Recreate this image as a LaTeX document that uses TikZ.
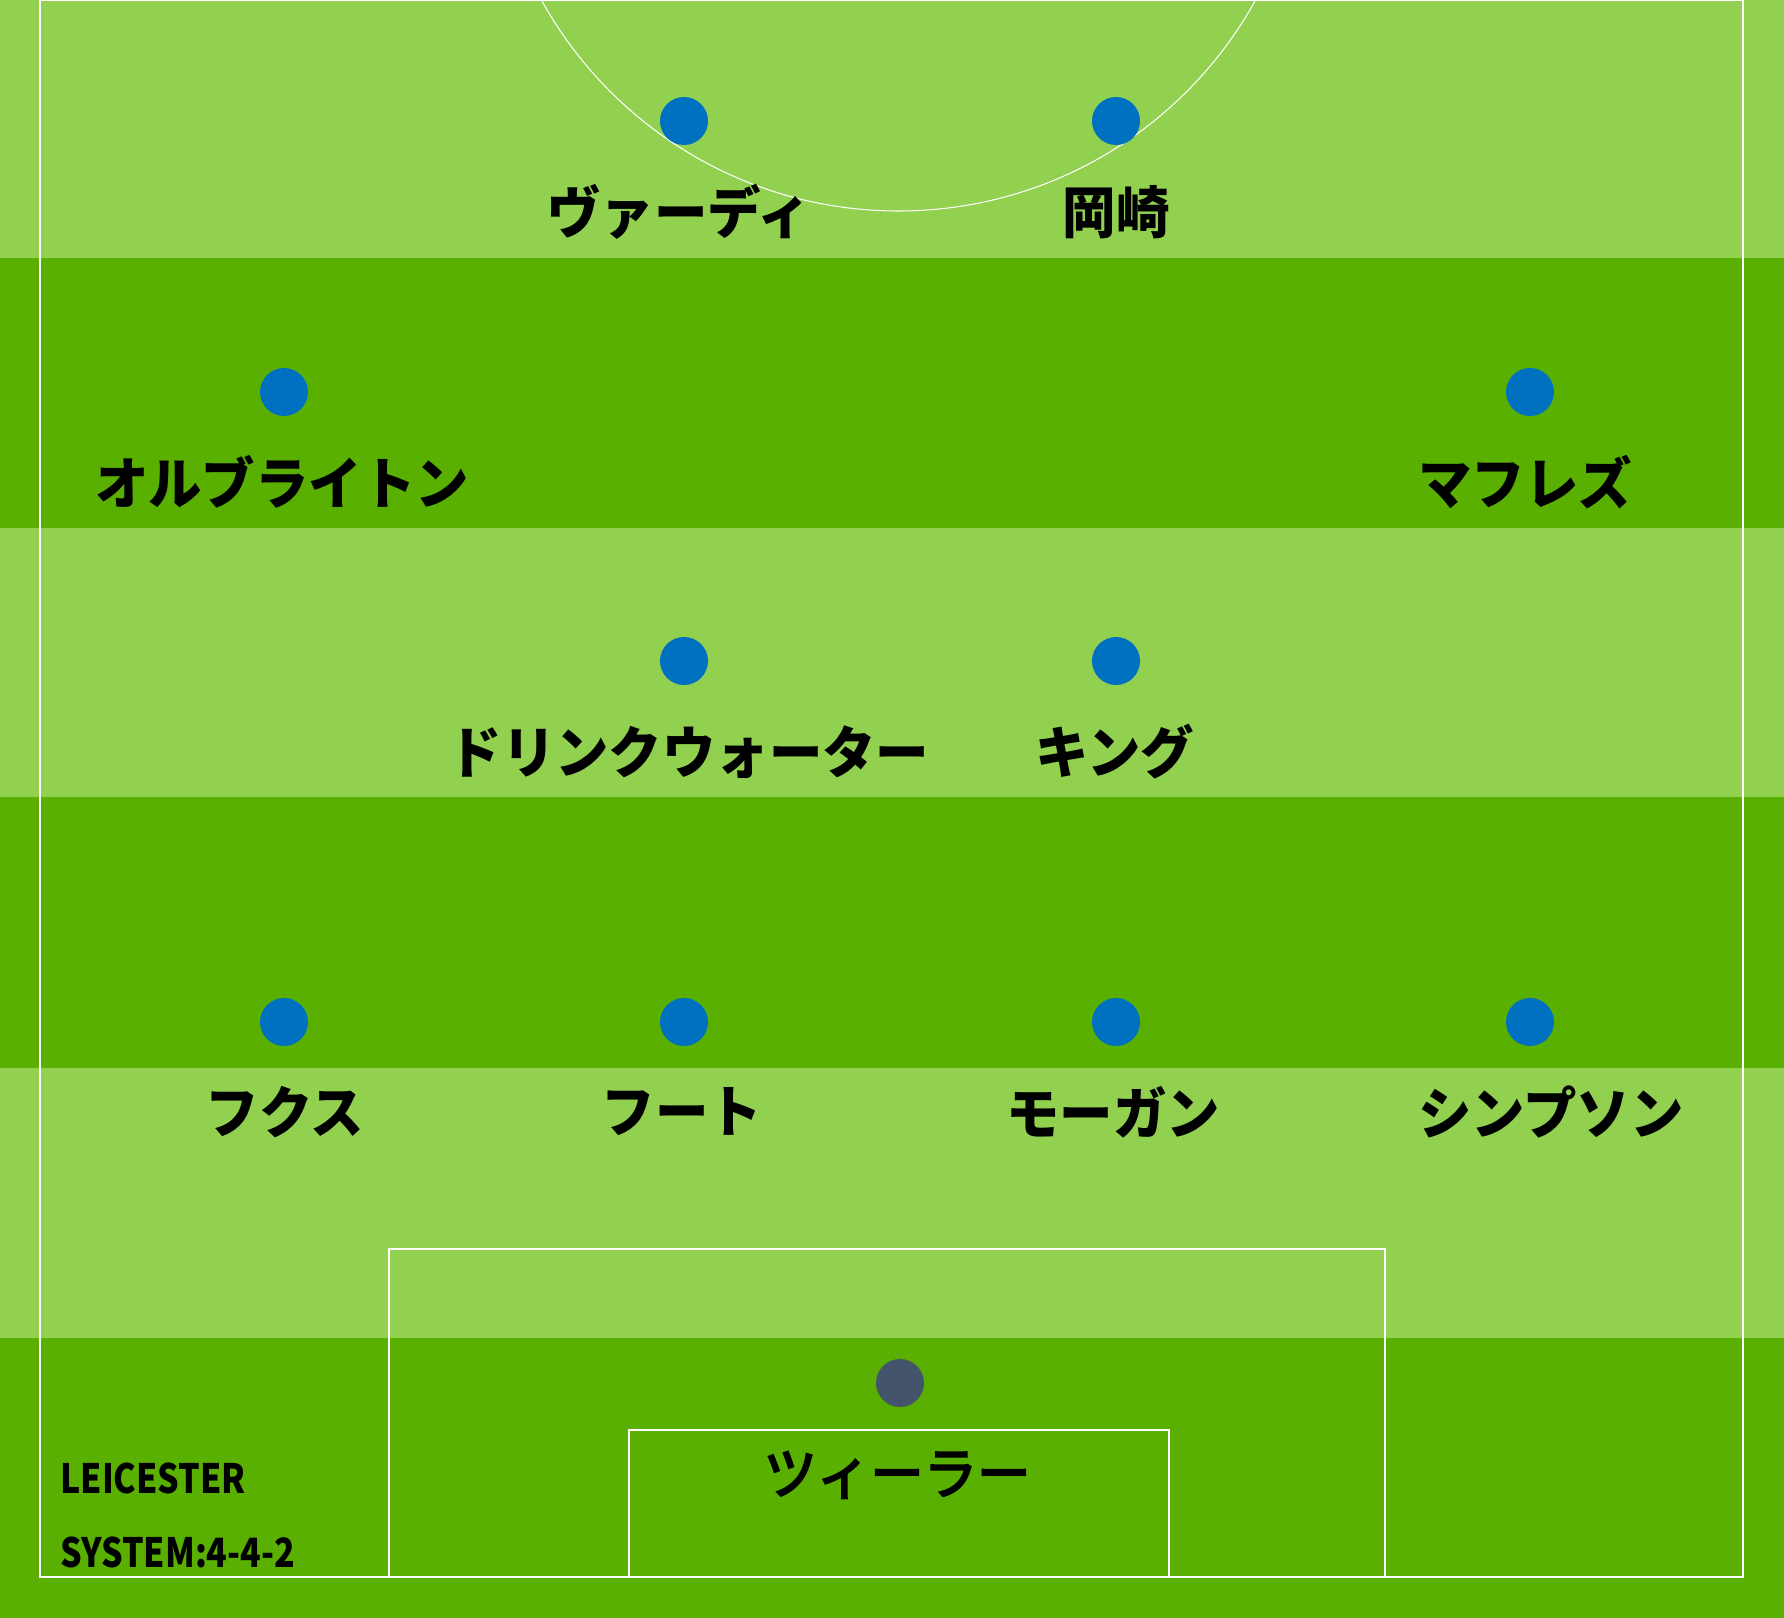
\documentclass[tikz,border=0pt]{standalone}
\usepackage{fontspec}
\newfontfamily\jpfont[FakeStretch=0.95]{Noto Sans CJK JP}
\newfontfamily\gkfont[FakeStretch=0.95,FakeBold=3.5]{Noto Sans CJK JP}
\newfontfamily\teamfont[FakeStretch=0.84]{Noto Sans CJK JP}
\definecolor{lightturf}{HTML}{92D050}
\definecolor{darkturf}{HTML}{5AB000}
\definecolor{plblue}{HTML}{0070C0}
\definecolor{gkslate}{HTML}{44546A}
\tikzset{
  player/.style={circle,fill=plblue,minimum size=0.96cm,inner sep=0pt},
  keeper/.style={player,fill=gkslate},
  plname/.style={inner sep=0pt,font=\jpfont\fontsize{32}{36}\selectfont\bfseries},
  gkname/.style={inner sep=0pt,font=\gkfont\fontsize{32}{36}\selectfont},
  team/.style={anchor=base west,inner sep=0pt,font=\teamfont\fontsize{23}{26}\selectfont\bfseries},
  pitchline/.style={draw=white,line width=1.1pt}
}
\begin{document}
\begin{tikzpicture}[x=0.02cm,y=-0.02cm,line cap=rect,line join=miter]
	\useasboundingbox (0,0) rectangle (1784,1618);
	\fill[lightturf] (0,0) rectangle (1784,258);
	\fill[darkturf] (0,258) rectangle (1784,528);
	\fill[lightturf] (0,528) rectangle (1784,797);
	\fill[darkturf] (0,797) rectangle (1784,1068);
	\fill[lightturf] (0,1068) rectangle (1784,1338);
	\fill[darkturf] (0,1338) rectangle (1784,1618);
	\begin{scope}
		\clip (40,0) rectangle (1743,1577);
		\draw[draw=white,line width=0.6pt] (898.5,-196.5) circle[radius=407.5];
	\end{scope}
	\draw[pitchline] (40,0) rectangle (1743,1577);
	\draw[pitchline] (389,1577) -- (389,1249) -- (1385,1249) -- (1385,1577);
	\draw[pitchline] (629,1577) -- (629,1430) -- (1169,1430) -- (1169,1577);
	% FW
	\node[player] (vardy) at (684,121) {};
	\node[player] (okazaki) at (1116,121) {};
	\node[plname] (vardyname) at (679,212) {ヴァーディ};
	\node[plname] (okazakiname) at (1116,212) {岡崎};
	% MF
	\node[player] (albrighton) at (284,392) {};
	\node[player] (mahrez) at (1530,392) {};
	\node[plname] (albrightonname) at (282,482) {オルブライトン};
	\node[plname] (mahrezname) at (1525,482) {マフレズ};
	\node[player] (drinkwater) at (684,661) {};
	\node[player] (king) at (1116,661) {};
	\node[plname] (drinkwatername) at (689,752) {ドリンクウォーター};
	\node[plname] (kingname) at (1115,752) {キング};
	% DF
	\node[player] (fuchs) at (284,1022) {};
	\node[player] (huth) at (684,1022) {};
	\node[player] (morgan) at (1116,1022) {};
	\node[player] (simpson) at (1530,1022) {};
	\node[plname] (fuchsname) at (285,1112) {フクス};
	\node[plname] (huthname) at (682,1112) {フート};
	\node[plname] (morganname) at (1113,1112) {モーガン};
	\node[plname] (simpsonname) at (1551,1112) {シンプソン};
	% GK
	\node[keeper] (zieler) at (900,1383) {};
	\node[gkname] (zielername) at (897,1475) {ツィーラー};
	\node[team] (club) at (60,1493) {LEICESTER};
	\node[team] (system) at (60,1567) {SYSTEM:4-4-2};
\end{tikzpicture}
\end{document}
